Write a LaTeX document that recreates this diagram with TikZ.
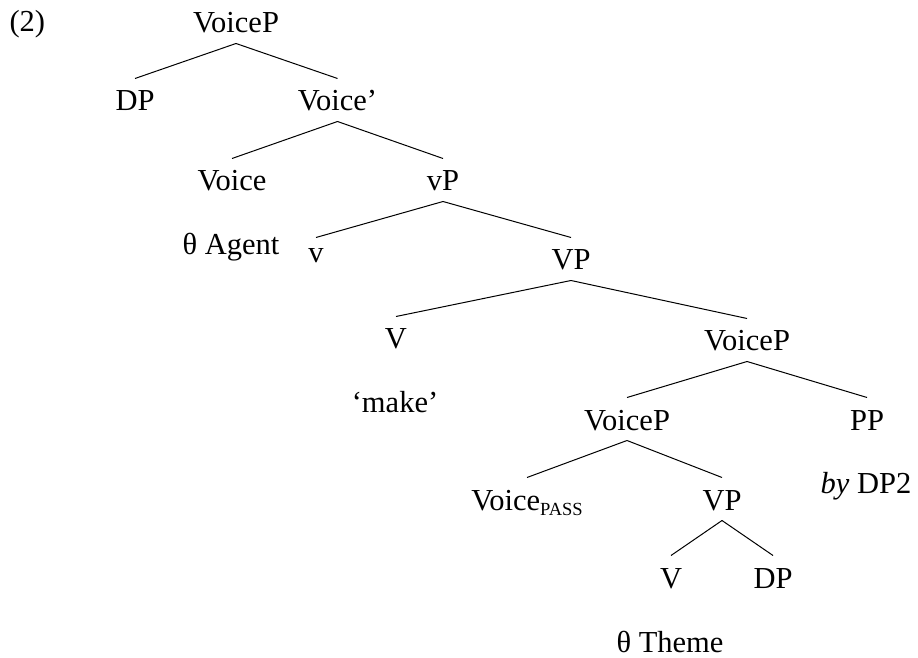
\documentclass[tikz,border=0pt]{standalone}
\usepackage{fontspec}
\setmainfont{Liberation Serif}

\begin{document}
\begin{tikzpicture}[x=0.4pt,y=-0.4pt,
    every node/.style={font=\fontsize{12.2}{14}\selectfont},
    cat/.style={anchor=base,inner xsep=0pt,inner ysep=4pt,text height=8.8pt,text depth=0pt},
    note/.style={anchor=base,inner sep=0pt}]
    \useasboundingbox (0,0) rectangle (918,658);

    \node[note,anchor=base west] (ex) at (9,32) {(2)};

    \node[cat] (voicep) at (236,33) {VoiceP};
    \node[cat] (dp) at (135,111) {DP};
    \node[cat] (voicebar) at (337.5,111) {Voice'};
    \node[cat] (voice) at (232,191) {Voice};
    \node[cat] (vsp) at (443,191) {vP};
    \node[note] (agent) at (231,255) {θ Agent};
    \node[cat,text height=6pt] (vs) at (316,263) {v};
    \node[cat] (vp) at (571,270) {VP};
    \node[cat] (v) at (396,349) {V};
    \node[note] (make) at (395,413) {`make'};
    \node[cat] (voicepb) at (747,351) {VoiceP};
    \node[cat] (voicepc) at (627,430) {VoiceP};
    \node[cat] (pp) at (867,430) {PP};
    \node[note] (by) at (866,493) {\textit{by} DP2};
    \node[cat] (voicepass) at (527,510) {Voice\raisebox{-2pt}{\fontsize{7.4}{8}\selectfont PASS}};
    \node[cat] (vpb) at (722,510) {VP};
    \node[cat] (vb) at (671,588) {V};
    \node[cat] (dpb) at (773,588) {DP};
    \node[note] (theme) at (670,652) {θ Theme};

    \draw (voicep.south) -- (dp.north) (voicep.south) -- (voicebar.north);
    \draw (voicebar.south) -- (voice.north) (voicebar.south) -- (vsp.north);
    \draw (vsp.south) -- (vs.north) (vsp.south) -- (vp.north);
    \draw (vp.south) -- (v.north) (vp.south) -- (voicepb.north);
    \draw (voicepb.south) -- (voicepc.north) (voicepb.south) -- (pp.north);
    \draw (voicepc.south) -- (voicepass.north) (voicepc.south) -- (vpb.north);
    \draw (vpb.south) -- (vb.north) (vpb.south) -- (dpb.north);
\end{tikzpicture}
\end{document}
